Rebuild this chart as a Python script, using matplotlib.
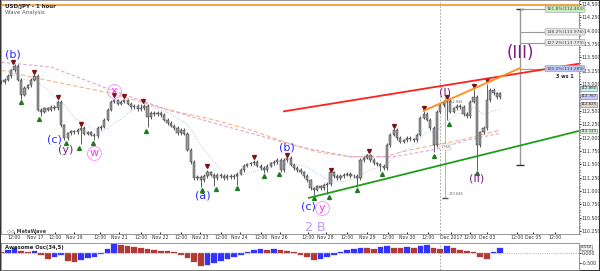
import numpy as np
import pandas as pd
import matplotlib
matplotlib.use("Agg")
import matplotlib.pyplot as plt
from matplotlib.ticker import MultipleLocator
from matplotlib.transforms import blended_transform_factory

# USD/JPY 1h closes, one value every 2 bars
close = [113.04, 113.08, 113.15, 113.26, 113.34, 113.08, 112.80, 112.93, 112.98, 113.08,
         113.15, 112.52, 112.48, 112.55, 112.52, 112.57, 112.55, 112.67, 112.23, 111.99,
         112.08, 112.12, 112.10, 112.14, 112.18, 112.07, 112.10, 112.05, 112.03, 112.18,
         112.20, 112.33, 112.52, 112.67, 112.70, 112.63, 112.67, 112.70, 112.63, 112.57,
         112.59, 112.53, 112.55, 112.59, 112.38, 112.46, 112.44, 112.46, 112.42, 112.33,
         112.27, 112.22, 112.18, 112.08, 112.14, 112.07, 111.77, 111.54, 111.24, 111.26,
         111.20, 111.28, 111.35, 111.30, 111.24, 111.30, 111.28, 111.24, 111.28, 111.26,
         111.28, 111.32, 111.39, 111.47, 111.50, 111.52, 111.54, 111.47, 111.43, 111.39,
         111.47, 111.52, 111.54, 111.58, 111.39, 111.58, 111.62, 111.49, 111.43, 111.39,
         111.35, 111.28, 111.20, 111.05, 111.02, 111.09, 111.05, 111.11, 111.13, 111.35,
         111.28, 111.24, 111.28, 111.30, 111.32, 111.28, 111.28, 111.24, 111.58, 111.62,
         111.67, 111.58, 111.52, 111.50, 111.47, 111.43, 111.86, 112.05, 112.14, 111.99,
         111.92, 111.95, 111.99, 111.97, 111.95, 112.05, 112.37, 112.44, 112.33, 112.18,
         111.86, 112.48, 112.61, 112.67, 112.68, 112.48, 112.55, 112.59, 112.57, 112.44,
         112.40, 112.67, 112.76, 111.86, 112.10, 112.18, 112.70, 112.89, 112.83, 112.76,
         112.83]
bar_step = 2

swing_high_bar = [7, 20, 34, 48, 68, 74, 85, 124, 152, 172, 198, 221, 236, 254, 268, 284, 292]
swing_high = [113.38, 113.19, 112.72, 112.23, 112.76, 112.74, 112.65, 111.43, 111.60, 111.65,
              111.37, 111.71, 112.18, 112.52, 112.72, 112.93, 113.04]
swing_low_bar = [12, 23, 39, 47, 55, 87, 121, 129, 142, 158, 167, 188, 197, 214, 229, 260, 269, 286]
swing_low = [112.70, 112.37, 111.92, 111.84, 111.92, 112.16, 111.04, 111.07, 111.09, 111.30,
             111.34, 110.89, 110.91, 111.04, 111.34, 111.69, 112.29, 111.37]

ma_orange_bar = [0, 20, 66, 100, 128, 150, 170, 190, 210, 230, 246, 276, 300]
ma_orange = [113.26, 113.12, 112.83, 112.52, 112.33, 112.14, 111.92, 111.73, 111.64, 111.64,
             111.77, 111.95, 112.14]
ma_purple_bar = [0, 30, 66, 100, 128, 150, 180, 210, 236, 260, 280, 300]
ma_purple = [113.41, 113.32, 112.89, 112.52, 112.27, 112.08, 111.82, 111.64, 111.64, 111.77,
             111.95, 112.08]

# awesome oscillator, one value every 4 bars
ao = [0.04, 0.13, 0.22, 0.09, 0.02, 0.09, -0.13, -0.31, -0.22, -0.13,
      -0.40, -0.44, -0.36, -0.27, -0.18, -0.04, 0.18, 0.40, 0.36, 0.31,
      0.27, 0.22, 0.18, 0.13, 0.09, 0.07, 0.02, -0.09, -0.27, -0.44,
      -0.62, -0.58, -0.49, -0.40, -0.31, -0.18, -0.09, 0.04, 0.13, 0.18,
      0.13, 0.18, 0.13, 0.09, 0.04, -0.09, -0.22, -0.36, -0.31, -0.22,
      -0.09, 0.04, 0.13, 0.18, 0.22, 0.22, 0.18, 0.27, 0.31, 0.22,
      0.22, 0.27, 0.22, 0.31, 0.36, 0.22, 0.18, 0.31, 0.22, 0.13,
      0.09, 0.04, -0.18, -0.31, 0.04, 0.22]
ao_step = 4

# trend lines (bar, price)
red_line = ([170, 347], [112.49, 113.38])
orange_line = ([254, 312], [112.50, 113.30])
green_line = ([185, 347], [110.87, 112.12])

fib_bar = 312
fib_base = 111.486
fib_pct = ["161.8%", "138.2%", "127.2%", "100.0%"]
fib_price = [114.403, 113.978, 113.779, 113.289]

wave_text = ["(b)", "(c)", "(y)", "w", "x", "(a)", "(b)", "(c)", "y", "2 B", "(I)", "(II)", "(III)"]
wave_bar = [7, 32, 39, 56, 68, 121, 172, 185, 193, 189, 267, 286, 312]
wave_price = [113.55, 111.97, 111.77, 111.71, 112.87, 110.92, 111.82, 110.70, 110.68, 110.32,
              112.85, 111.24, 113.58]

xtick_bar = [7.8, 20.4, 32.4, 43.8, 59.4, 70.8, 84, 95.4, 108, 119.4, 132, 143.4, 156, 167.4,
             184.2, 195, 208.2, 220.2, 232.8, 244.2, 256.8, 270.5, 282, 292.2, 310.2, 319.8, 333]
xtick_label = ["12:00", "Nov 17", "12:00", "Nov 19", "12:00", "Nov 21", "12:00", "Nov 22",
               "12:00", "Nov 23", "12:00", "Nov 24", "12:00", "Nov 26", "12:00", "Nov 28",
               "12:00", "Nov 29", "12:00", "Nov 30", "12:00", "Dec 2017", "12:00", "Dec 03",
               "12:00", "Dec 05", "12:00"]

blue = "#2a2aff"
purple = "#7b1f86"
magenta = "#ff33ff"
wave_color = [blue, blue, purple, magenta, magenta, blue, blue, blue, magenta, "#c09af0",
              purple, purple, purple]
wave_size = [8, 8, 8, 8, 8, 8, 8, 8, 8, 9, 8, 8, 12]

fig = plt.figure(figsize=(6, 2.71), dpi=100)
fig.patch.set_edgecolor("#333333")
fig.patch.set_linewidth(1.2)

ax = fig.add_axes([0.002, 0.1365, 0.963, 0.8635])
ax2 = fig.add_axes([0.002, 0.004, 0.963, 0.0996])
xmax = 347.4

bars = np.arange(len(close)) * bar_step
opens = [close[0]] + close[:-1]
highs = [max(o, c) + 0.03 for o, c in zip(opens, close)]
lows = [min(o, c) - 0.03 for o, c in zip(opens, close)]
for b, p in zip(swing_high_bar, swing_high):
    i = int(round(b / bar_step))
    highs[i] = max(highs[i], p - 0.03)
for b, p in zip(swing_low_bar, swing_low):
    i = int(round(b / bar_step))
    lows[i] = min(lows[i], p + 0.03)

# moving averages
ax.plot(ma_orange_bar, ma_orange, color="#f7b48a", lw=0.8, dashes=(4, 2), zorder=1)
ax.plot(ma_purple_bar, ma_purple, color="#d9a6dd", lw=0.8, dashes=(3, 2), zorder=1)
fast = pd.Series(close).rolling(12, min_periods=1).mean()
ax.plot(bars, fast, color="#9fbcf2", lw=0.6, ls=":", zorder=1)

# candles
ax.vlines(bars, lows, highs, color="#444444", lw=0.6, zorder=3)
body_lo = np.minimum(opens, close)
body_h = np.abs(np.array(close) - np.array(opens))
ax.bar(bars, body_h, bottom=body_lo, width=1.3, color="#9a9a9a", edgecolor="#222222",
       lw=0.3, zorder=4)

ax.plot(swing_high_bar, np.array(swing_high) + 0.03, "v", color="#7a1414", ms=2.8, zorder=5)
ax.plot(swing_low_bar, np.array(swing_low) - 0.03, "^", color="#1f7a1f", ms=2.8, zorder=5)

# top level and trend lines
ax.axhline(114.49, color="#f5a030", lw=1.3, zorder=2)
ax.plot(*red_line, color="#ff2020", lw=1.3, zorder=6)
ax.plot(*orange_line, color="#ff8c1a", lw=1.3, zorder=6)
ax.plot(*green_line, color="#1e9e1e", lw=1.3, zorder=6)

# Dec 1 separator
for a in (ax, ax2):
    a.axvline(264, color="#999999", lw=0.6, dashes=(2, 2), zorder=0)

# measuring ruler near Dec 1
ax.vlines(267, 110.87, 112.76, color="#aaaaaa", lw=0.6)
ax.plot([267], [110.87], marker="_", color="#555555", ms=5)
ax.text(269, 112.64, "112.846", fontsize=2.5, color="#666666")
ax.text(267, 111.80, "1.955", fontsize=2.5, color="#666666", ha="center",
        bbox=dict(boxstyle="square,pad=0.2", fc="white", ec="#aaaaaa", lw=0.3))
ax.text(269, 110.92, "110.848", fontsize=2.5, color="#666666")

# fibonacci extension
ax.vlines(fib_bar, fib_base, fib_price[0], color="#999999", lw=1.0, zorder=2)
ax.plot([fib_bar, fib_bar], [fib_base, fib_price[0]], marker="_", color="#333333", ms=6, lw=0)
fib_bg = ["#c8efc0", "#e8e8e8", "#e8e8e8", "#b9c6f0"]
for pct, p, bg in zip(fib_pct, fib_price, fib_bg):
    ax.hlines(p, fib_bar, xmax, color="#999999", lw=0.8, zorder=2)
    ax.text(339, p, "%s(%.3f)" % (pct, p), fontsize=3.2, ha="center", va="center", color="#444444",
            bbox=dict(boxstyle="round,pad=0.25", fc=bg, ec="#999999", lw=0.4), zorder=7)
ax.text(339, 113.15, "3 ws 1", fontsize=3.5, ha="center", va="center", weight="bold", color="#222222")

# wave labels
for t, b, p, c, s in zip(wave_text, wave_bar, wave_price, wave_color, wave_size):
    ax.text(b, p, t, color=c, fontsize=s, ha="center", va="center", zorder=8)
    if c == magenta:
        ax.plot([b], [p], "o", ms=10, mfc="none", mec="#ff88ff", mew=0.6, zorder=8)

# price axis (the 112.750 label sits under the price tags)
yt = np.arange(110.25, 114.51, 0.25)
ax.set_xlim(0, xmax)
ax.set_ylim(110.193, 114.575)
ax.yaxis.tick_right()
ax.set_yticks(yt)
ax.set_yticklabels(["" if abs(v - 112.75) < 1e-6 else "%.3f" % v for v in yt])
ax.yaxis.set_minor_locator(MultipleLocator(0.05))
ax.tick_params(axis="y", which="major", labelsize=3.4, length=1.5, pad=0.5, colors="#333333")
ax.tick_params(axis="y", which="minor", length=1)
ax.set_xticks(xtick_bar)
ax.set_xticklabels(xtick_label)
ax.tick_params(axis="x", labelsize=3.3, length=1.5, pad=1, colors="#333333", direction="in")
for sp in ax.spines.values():
    sp.set_color("#888888")
    sp.set_linewidth(0.6)

# tags on price axis
trans = blended_transform_factory(ax.transAxes, ax.transData)
tags = [(112.92, "112.860", "#c4f0f0"), (112.77, "112.767", "#c8c8ff"),
        (112.62, "112.625", "#e0d0d0"), (112.12, "112.121", "#d8f0d8")]
for p, t, bg in tags:
    ax.text(1.003, p, t, transform=trans, fontsize=2.8, va="center", ha="left", color="#222222",
            bbox=dict(boxstyle="square,pad=0.08", fc=bg, ec="#777777", lw=0.4), clip_on=False)

# oscillator
ao_bars = np.arange(len(ao)) * ao_step
ao_col = ["#3333ff" if i > 0 and ao[i] > ao[i - 1] else "#b03a36" for i in range(len(ao))]
ax2.bar(ao_bars, ao, width=3.4, color=ao_col, edgecolor=ao_col, lw=0.2)
ax2.axhline(0, color="#999999", lw=0.6, ls=":")
ax2.set_xlim(0, xmax)
ax2.set_ylim(-0.80, 0.45)
ax2.set_xticks([])
ax2.yaxis.tick_right()
ax2.set_yticks([0, -0.5])
ax2.set_yticklabels(["0.000", "-0.500"])
ax2.tick_params(axis="y", labelsize=3.4, length=1.5, pad=0.5, colors="#333333")
for sp in ax2.spines.values():
    sp.set_color("#888888")
    sp.set_linewidth(0.6)
trans2 = blended_transform_factory(ax2.transAxes, ax2.transData)
ax2.text(1.003, 0.25, "0.132", transform=trans2, fontsize=2.8, va="center", color="#222222",
         bbox=dict(boxstyle="square,pad=0.08", fc="#eeeeee", ec="#777777", lw=0.4), clip_on=False)

# header texts
fig.text(0.009, 0.986, "USD/JPY - 1 hour", fontsize=4, weight="bold", va="top", color="#222222")
fig.text(0.009, 0.962, "Wave Analysis", fontsize=4, va="top", color="#555555")
fig.text(0.012, 0.148, "\u25c7\u25c7 MetaWave", fontsize=3.6, weight="bold", va="center", color="#444444")
fig.text(0.009, 0.088, "Awesome Osc(34,5)", fontsize=3.8, weight="bold", va="center", color="#222222")

fig.savefig("out.png", dpi=100, edgecolor=fig.get_edgecolor())
